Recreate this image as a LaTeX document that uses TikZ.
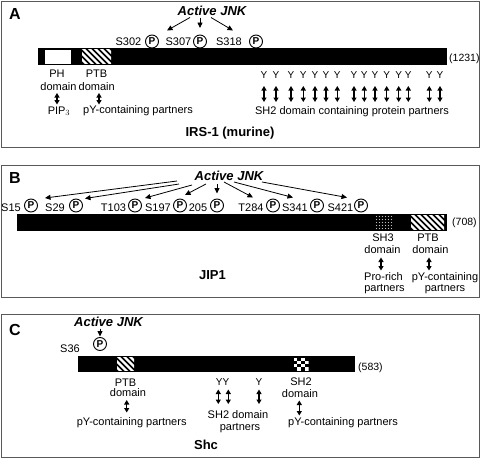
\documentclass[tikz,border=0pt]{standalone}
\usepackage{fontspec}
\setmainfont{Liberation Sans}
\usetikzlibrary{arrows.meta}
\newcommand\hatchbox[4]{%
  \begin{scope}
    \clip (#1,#2) rectangle (#3,#4);
    \fill[black] (#1,#2) rectangle (#3,#4);
    \foreach \k in {-24,-18,...,42} {\draw[white,line width=2.3pt] (#1+\k,#2-2) -- ++(20,20);}
  \end{scope}}
\begin{document}
\begin{tikzpicture}[x=1pt,y=-1pt,
  txt/.style={font=\fontsize{11}{13}\selectfont, inner sep=0, anchor=base},
  ytxt/.style={font=\fontsize{10}{12}\selectfont, inner sep=0, anchor=base},
  num/.style={font=\fontsize{10.5}{12}\selectfont, inner sep=0, anchor=base west},
  title/.style={font=\bfseries\fontsize{13}{15}\selectfont, inner sep=0, anchor=base},
  jnk/.style={font=\bfseries\itshape\fontsize{13}{15}\selectfont, inner sep=0, anchor=base},
  panel/.style={font=\bfseries\fontsize{16}{18}\selectfont, inner sep=0, anchor=base west},
  phos/.style={circle, draw, line width=0.9pt, minimum size=13pt, inner sep=0, font=\bfseries\fontsize{10}{10}\selectfont},
  frame/.style={draw=black!65, line width=1pt},
  bar/.style={fill=black},
  jarrow/.style={line width=0.8pt, -{Triangle[width=5pt,length=5.5pt]}},
  darrow/.style={line width=1.4pt, {Triangle[width=5pt,length=4.5pt]}-{Triangle[width=5pt,length=4.5pt]}}
  ]
\useasboundingbox (0,0) rectangle (480,458);
\fill[white] (0,0) rectangle (480,458);

% ================= Panel A =================
\draw[frame] (1,1) rectangle (479,147);
\node[panel] (la) at (9,19.5) {A};
\node[jnk] (jnkA) at (212,15) {Active JNK};
\fill[bar] (38,48) rectangle (447,65);
\fill[white] (45,49.5) rectangle (71,63.5);
\hatchbox{82}{49.5}{111}{63.5}
\node[num] (nA) at (449,61) {(1231)};
\node[phos] (pA1) at (152,41.5) {P};
\node[phos] (pA2) at (200,41.5) {P};
\node[phos] (pA3) at (256,41.5) {P};
\node[txt] (sA1) at (128.5,45.5) {S302};
\node[txt] (sA2) at (178.5,45.5) {S307};
\node[txt] (sA3) at (229,45.5) {S318};
\coordinate (aA1s) at (190,17.5); \coordinate (aA1e) at (167,30.5);
\coordinate (aA2s) at (200,17.5); \coordinate (aA2e) at (200,28);
\coordinate (aA3s) at (211,17.5); \coordinate (aA3e) at (233,30.5);
\draw[jarrow] (aA1s) -- (aA1e);
\draw[jarrow] (aA2s) -- (aA2e);
\draw[jarrow] (aA3s) -- (aA3e);
\node[txt] (ph) at (57,77) {PH};
\node[txt] (ptbA) at (96.5,77) {PTB};
\node[txt] (dA1) at (58.5,90.5) {domain};
\node[txt] (dA2) at (96.7,90.5) {domain};
\coordinate (dxA1s) at (57,93); \coordinate (dxA1e) at (57,104.5);
\coordinate (dxA2s) at (99,93); \coordinate (dxA2e) at (99,104.5);
\draw[darrow] (dxA1s) -- (dxA1e);
\draw[darrow] (dxA2s) -- (dxA2e);
\node[txt] (pip) at (59,114) {PIP$_3$};
\node[txt] (pyA) at (138,113.5) {pY-containing partners};
\node[title] (irs) at (230,136.5) {IRS-1 (murine)};
\foreach \x [count=\i] in {264,276,291,303.3,315,326,337.3,354,364.3,375,386.7,398.7,408.3,429.3,440} {
  \node[ytxt] (yA\i) at (\x,78.5) {Y};
  \coordinate (yAs\i) at (\x,86);
  \coordinate (yAe\i) at (\x,102);
  \draw[darrow] (yAs\i) -- (yAe\i);
}
\node[txt] (sh2A) at (352,114) {SH2 domain containing protein partners};

% ================= Panel B =================
\draw[frame] (1,165) rectangle (479,297);
\node[panel] (lb) at (9,183.5) {B};
\node[jnk] (jnkB) at (229,180) {Active JNK};
\fill[bar] (17,214) rectangle (447,231);
% SH3 dotted region
\begin{scope}
  \clip (375,215) rectangle (392,230);
  \foreach \xx in {376.5,379.5,...,392} {\foreach \yy in {216.5,219.5,...,230} {\fill[white!75!black] (\xx,\yy) circle (0.55pt);}}
\end{scope}
\hatchbox{411}{215.5}{444}{229.5}
\node[num] (nB) at (452,225) {(708)};
\foreach \x/\lab/\lx [count=\i] in {31/S15/11,76/S29/55,135/T103/113.5,180/S197/158,217/205/198,273/T284/251,317/S341/295,361/S421/340.5} {
  \node[phos] (pB\i) at (\x,205.5) {P};
  \node[txt] (sB\i) at (\lx,211) {\lab};
}
\coordinate (bs1) at (177,181); \coordinate (be1) at (45,198);
\coordinate (bs2) at (179,184); \coordinate (be2) at (85,198.5);
\coordinate (bs3) at (192,185); \coordinate (be3) at (145,198);
\coordinate (bs4) at (206,184); \coordinate (be4) at (185,195);
\coordinate (bs5) at (217,184); \coordinate (be5) at (217,193.5);
\coordinate (bs6) at (224,182); \coordinate (be6) at (253,197.5);
\coordinate (bs7) at (234,182); \coordinate (be7) at (293,197.5);
\coordinate (bs8) at (262,182); \coordinate (be8) at (347,197.5);
\foreach \i in {1,...,8} {\draw[jarrow] (bs\i) -- (be\i);}
\node[txt] (sh3) at (383,241.7) {SH3};
\node[txt] (dB1) at (382.5,253.5) {domain};
\node[txt] (ptbB) at (428,241.7) {PTB};
\node[txt] (dB2) at (430.5,253.5) {domain};
\coordinate (dxB1s) at (381,257.5); \coordinate (dxB1e) at (381,270.5);
\coordinate (dxB2s) at (429,257.5); \coordinate (dxB2e) at (429,270.5);
\draw[darrow] (dxB1s) -- (dxB1e);
\draw[darrow] (dxB2s) -- (dxB2e);
\node[txt] (pro) at (383.5,280) {Pro-rich};
\node[txt] (parB1) at (384.5,291) {partners};
\node[txt] (pyB) at (445,280) {pY-containing};
\node[txt] (parB2) at (445,291) {partners};
\node[title] (jip) at (212.5,279.3) {JIP1};

% ================= Panel C =================
\draw[frame] (1,314) rectangle (479,457);
\node[panel] (lc) at (9,335) {C};
\node[jnk] (jnkC) at (108.5,326.7) {Active JNK};
\node[phos] (pC) at (100,344) {P};
\node[txt] (sC) at (70,352) {S36};
\coordinate (cs) at (100,328.5); \coordinate (ce) at (100,336.5);
\draw[jarrow] (cs) -- (ce);
\fill[bar] (78,356) rectangle (355,372);
\hatchbox{117}{357.5}{134}{370.5}
% SH2 checker
\begin{scope}
  \clip (293.5,357.5) rectangle (308.5,370.5);
  \fill[white] (293.5,357.5) rectangle ++(3.75,3.25);
  \fill[white] (301,357.5) rectangle ++(3.75,3.25);
  \fill[white] (297.25,360.75) rectangle ++(3.75,3.25);
  \fill[white] (304.75,360.75) rectangle ++(3.75,3.25);
  \fill[white] (293.5,364) rectangle ++(3.75,3.25);
  \fill[white] (301,364) rectangle ++(3.75,3.25);
  \fill[white] (297.25,367.25) rectangle ++(3.75,3.25);
  \fill[white] (304.75,367.25) rectangle ++(3.75,3.25);
\end{scope}
\node[num] (nC) at (358,370) {(583)};
\node[txt] (ptbC) at (125.5,386) {PTB};
\node[txt] (dC1) at (128,396.5) {domain};
\coordinate (dxC1s) at (126.7,400); \coordinate (dxC1e) at (126.7,412.5);
\draw[darrow] (dxC1s) -- (dxC1e);
\node[txt] (pyC1) at (131.7,425) {pY-containing partners};
\node[ytxt] (yy) at (222.5,385) {YY};
\node[ytxt] (yC) at (259,385) {Y};
\coordinate (yc1s) at (218.3,389.5); \coordinate (yc1e) at (218.3,404);
\coordinate (yc2s) at (228.3,389.5); \coordinate (yc2e) at (228.3,404);
\coordinate (yc3s) at (259,389.5); \coordinate (yc3e) at (259,404);
\draw[darrow] (yc1s) -- (yc1e);
\draw[darrow] (yc2s) -- (yc2e);
\draw[darrow] (yc3s) -- (yc3e);
\node[txt] (sh2C) at (238,418) {SH2 domain};
\node[txt] (parC) at (240,430) {partners};
\node[txt] (sh2C2) at (301,385) {SH2};
\node[txt] (dC2) at (300,397) {domain};
\coordinate (dxC2s) at (299.3,400.5); \coordinate (dxC2e) at (299.3,415.5);
\draw[darrow] (dxC2s) -- (dxC2e);
\node[txt] (pyC2) at (343,425) {pY-containing partners};
\node[title] (shc) at (206,449) {Shc};
\end{tikzpicture}
\end{document}
